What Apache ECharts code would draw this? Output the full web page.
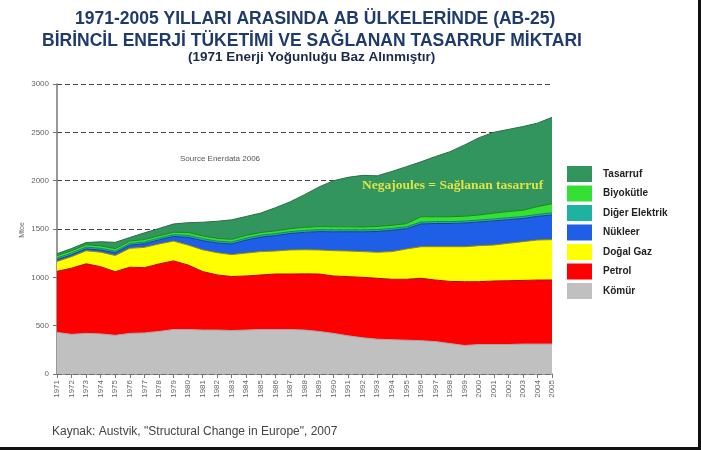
<!DOCTYPE html>
<html><head><meta charset="utf-8">
<script src="https://cdn.jsdelivr.net/npm/echarts@6/dist/echarts.min.js"></script>
<style>html,body{margin:0;padding:0;background:#fff}#c{width:701px;height:450px}</style>
</head><body><div id="c"></div>
<script>
const years = ["1971","1972","1973","1974","1975","1976","1977","1978","1979","1980","1981","1982","1983","1984","1985","1986","1987","1988","1989","1990","1991","1992","1993","1994","1995","1996","1997","1998","1999","2000","2001","2002","2003","2004","2005"];
const komur   = [430,410,420,415,400,420,425,440,460,460,455,455,450,455,460,460,460,455,440,420,395,375,360,355,350,345,335,315,295,305,305,305,310,310,310];
const petrol  = [632,685,720,695,658,685,675,698,710,668,605,570,558,559,564,574,574,581,594,594,612,625,630,625,630,645,637,643,660,650,657,660,658,662,662];
const dogalGaz= [103,119,135,150,168,195,210,207,205,206,225,230,227,237,242,238,249,249,249,262,265,266,269,286,313,327,345,359,362,373,372,387,401,414,418];
const nukleer = [17,18,20,22,28,32,38,42,48,80,95,100,110,135,150,160,170,180,190,195,200,205,215,220,210,235,240,240,245,245,250,245,240,245,255];
const digerElektrik = [18,18,18,18,18,18,18,18,18,20,20,20,20,20,20,20,20,20,20,20,20,20,20,20,20,20,20,20,20,20,20,20,20,20,22];
const biyokutle = [25,25,25,25,25,25,25,25,25,30,28,28,28,28,28,28,30,32,32,32,30,30,32,32,32,55,50,50,50,52,60,64,65,80,95];
const tasarruf  = [20,23,22,43,65,37,69,75,86,101,142,177,202,196,201,240,277,338,410,477,513,534,524,557,590,568,623,673,738,800,836,849,866,864,893];
const yTicks = [0,500,1000,1500,2000,2500,3000];

const layers = [
  {name:'Kömür', data:komur, color:'#c0c0c0', line:'#a8a8a8'},
  {name:'Petrol', data:petrol, color:'#ff0000', line:'#b00000'},
  {name:'Doğal Gaz', data:dogalGaz, color:'#ffff00', line:'#9a8a00'},
  {name:'Nükleer', data:nukleer, color:'#1f5fe8', line:'#1a3d8a'},
  {name:'Diğer Elektrik', data:digerElektrik, color:'#1db3a0', line:'#16806f'},
  {name:'Biyokütle', data:biyokutle, color:'#33e033', line:'#148a14'},
  {name:'Tasarruf', data:tasarruf, color:'#33955e', line:'#2a6e46'}
];

const chart = echarts.init(document.getElementById('c'));
chart.setOption({
  animation:false,
  backgroundColor:'#ffffff',
  grid:{left:57, right:149, top:84, bottom:76},
  legend:{
    orient:'vertical', left:567, top:166, padding:0, itemWidth:25, itemHeight:16, itemGap:3.5,
    icon:'rect',
    data:['Tasarruf','Biyokütle','Diğer Elektrik','Nükleer','Doğal Gaz','Petrol','Kömür'],
    textStyle:{fontFamily:'Liberation Sans', fontWeight:'bold', fontSize:10, color:'#222', padding:[0,0,0,6]}
  },
  xAxis:{
    type:'category', data:years, boundaryGap:false,
    axisLine:{lineStyle:{color:'#777', width:1.5}},
    axisTick:{show:true, interval:0, length:4, lineStyle:{color:'#777'}},
    axisLabel:{interval:0, rotate:90, fontSize:8, color:'#666', fontFamily:'Liberation Sans', margin:6},
    splitLine:{show:false}
  },
  yAxis:{
    type:'value', min:0, max:3000, interval:500,
    axisLine:{show:true, lineStyle:{color:'#777', width:1.5}},
    axisTick:{show:true, length:4, lineStyle:{color:'#777'}},
    axisLabel:{fontSize:8, color:'#666', fontFamily:'Liberation Sans', margin:8,
      formatter:function(v){return yTicks.indexOf(v)>=0?String(v):'';}},
    splitLine:{show:true, lineStyle:{color:'#444', type:[5,3], width:1.2}}
  },
  series: layers.map(l=>({
    name:l.name, type:'line', stack:'total', data:l.data, symbol:'none',
    itemStyle:{color:l.color},
    lineStyle:{color:l.line, width:1},
    areaStyle:{color:l.color, opacity:1}
  })),
  graphic:[
    {type:'text', left:75, top:10, z:100, style:{text:'1971-2005 YILLARI ARASINDA AB ÜLKELERİNDE (AB-25)', font:'bold 17.5px "Liberation Sans", Arial', fill:'#1f3b6b'}},
    {type:'text', left:42, top:32, z:100, style:{text:'BİRİNCİL ENERJİ TÜKETİMİ VE SAĞLANAN TASARRUF MİKTARI', font:'bold 17.5px "Liberation Sans", Arial', fill:'#1f3b6b'}},
    {type:'text', left:188, top:50, z:100, style:{text:'(1971 Enerji Yoğunluğu Baz Alınmıştır)', font:'bold 13.5px "Liberation Sans", Arial', fill:'#1a2a4a'}},
    {type:'text', x:22, y:230, rotation:Math.PI/2, z:100, style:{text:'Mtoe', font:'7px "Liberation Sans", Arial', fill:'#666', align:'center', verticalAlign:'middle'}},
    {type:'text', left:180, top:155, z:100, style:{text:'Source Enerdata 2006', font:'8px "Liberation Sans", Arial', fill:'#555'}},
    {type:'text', left:362, top:179, z:100, style:{text:'Negajoules = Sağlanan tasarruf', font:'bold 13.5px "Liberation Serif", "DejaVu Serif", serif', fill:'#dfe444'}},
    {type:'text', left:52, top:426, z:100, style:{text:'Kaynak: Austvik, "Structural Change in Europe", 2007', font:'12px "Liberation Sans", Arial', fill:'#444'}},
    {type:'rect', left:0, top:447, z:100, shape:{width:701, height:3}, style:{fill:'#111'}},
    {type:'rect', left:698, top:0, z:100, shape:{width:3, height:450}, style:{fill:'#111'}}
  ]
});
</script>
</body></html>
